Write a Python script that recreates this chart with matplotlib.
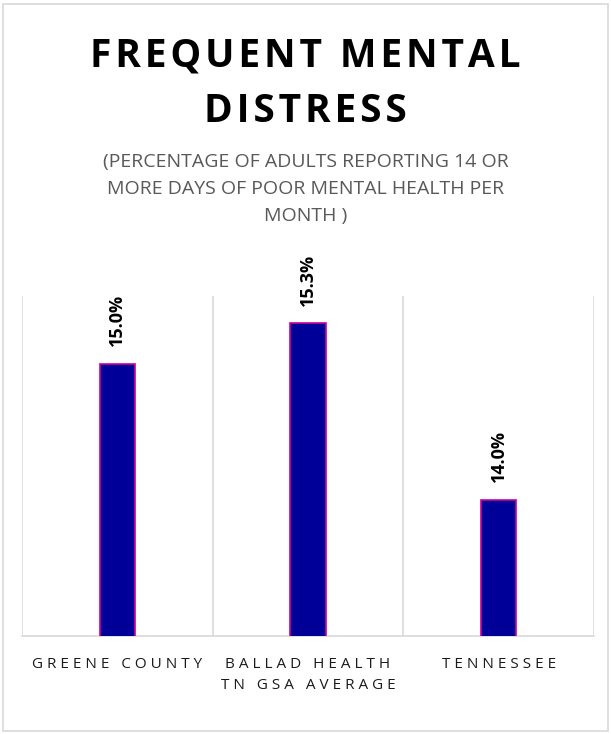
import matplotlib
matplotlib.use("Agg")
import matplotlib.pyplot as plt
from matplotlib.patches import Rectangle

categories = ["GREENE COUNTY", "BALLAD HEALTH\nTN GSA AVERAGE", "TENNESSEE"]
values = [15.0, 15.3, 14.0]
labels = ["15.0%", "15.3%", "14.0%"]

plt.rcParams["font.family"] = ["Open Sans", "DejaVu Sans"]


def spaced(s, gap="\u2009"):
    # fake letter spacing, roughly like the office chart
    return "\n".join(gap.join(line) for line in s.split("\n"))


fig = plt.figure(figsize=(6.11, 7.34), dpi=100)
W, H = 611, 734

# outer frame
fig.patches.append(Rectangle((3 / W, 3 / H), 605 / W, 727 / H, transform=fig.transFigure,
                             fill=False, edgecolor="#d9d9d9", linewidth=1.2))

ax = fig.add_axes([22 / W, (H - 636) / H, (594 - 22) / W, (636 - 296) / H])
x = list(range(len(values)))
ax.bar(x, values, width=0.185, color="#000099", edgecolor="#cc0099", linewidth=1.2, zorder=3)
ax.set_ylim(13.0, 15.5)
ax.set_xlim(-0.5, 2.5)

for xi, v, lab in zip(x, values, labels):
    ax.text(xi, v + 0.13, lab, rotation=90, ha="center", va="bottom",
            fontsize=13, fontweight="bold", color="#000000")

# vertical gridlines between categories
for g in [-0.5, 0.5, 1.5, 2.5]:
    ax.axvline(g, color="#d9d9d9", linewidth=1.2, zorder=1)

ax.set_yticks([])
ax.set_xticks(x)
ax.set_xticklabels([spaced(c, "\u2009\u200a") for c in categories], fontsize=11, color="#1a1a1a",
                   linespacing=1.6)
ax.tick_params(axis="x", length=0, pad=15)
for side in ["top", "left", "right"]:
    ax.spines[side].set_visible(False)
ax.spines["bottom"].set_color("#d9d9d9")
ax.spines["bottom"].set_linewidth(1.2)

fig.text(0.5, 1 - 56 / H, spaced("FREQUENT MENTAL", "\u200a"), ha="center", va="center",
         fontsize=28, fontweight="bold", color="#000000")
fig.text(0.5, 1 - 112 / H, spaced("DISTRESS", "\u200a"), ha="center", va="center",
         fontsize=28, fontweight="bold", color="#000000")
fig.text(0.5, 1 - 189 / H,
         "(PERCENTAGE OF ADULTS REPORTING 14 OR\nMORE DAYS OF POOR MENTAL HEALTH PER\nMONTH )",
         ha="center", va="center", fontsize=14, color="#595959", linespacing=1.62)

fig.savefig("out.png", dpi=100)
